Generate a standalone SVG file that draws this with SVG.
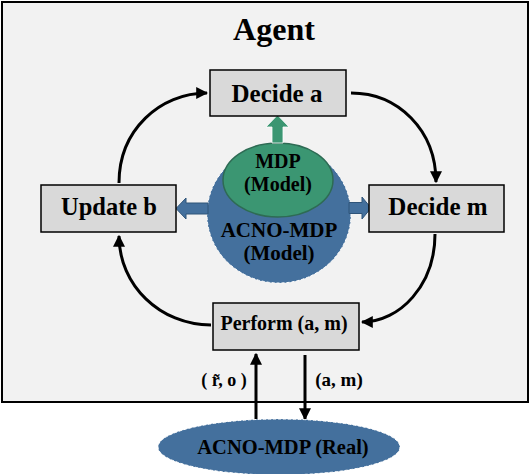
<svg xmlns="http://www.w3.org/2000/svg" width="532" height="474" viewBox="0 0 532 474">
<style>
text{font-family:"Liberation Serif","Times New Roman",serif;font-weight:bold;fill:#000;text-anchor:middle}
.box{fill:#d9d9d9;stroke:#000;stroke-width:1.5}
.conn{fill:none;stroke:#000;stroke-width:3;marker-end:url(#ah)}
.blue{fill:#44709d;stroke:#ffffff;stroke-width:1;stroke-dasharray:3 2}
.barrow{fill:#44709d;stroke:#2f5479;stroke-width:1}
</style>
<defs>
<marker id="ah" viewBox="0 0 10 10" refX="9" refY="5" markerWidth="4" markerHeight="4" orient="auto" markerUnits="strokeWidth">
<path d="M0,0 L10,5 L0,10 z" fill="#000"/>
</marker>
</defs>
<rect x="2" y="2" width="526" height="400" fill="#f2f2f2" stroke="#000" stroke-width="2"/>
<text x="274" y="40" font-size="32">Agent</text>

<g id="connectors">
<path class="conn" d="M119,183 C119,130 160,93 207,93"/>
<path class="conn" d="M351,93 C398,93 436,130 436,182"/>
<path class="conn" d="M435,234 C435,285 400,322 362,322"/>
<path class="conn" d="M211,325 C160,325 119,285 119,236"/>
<path class="conn" d="M256,419 L256,354"/>
<path class="conn" d="M305,355 L305,419"/>
</g>

<g id="acno-model">
<ellipse class="blue" cx="279" cy="214" rx="72" ry="69"/>
<path class="barrow" d="M208,203 L186,203 L186,198 L176,208.5 L186,219 L186,214 L208,214 z"/>
<path class="barrow" d="M349,202.5 L362,202.5 L362,197 L371,208 L362,219 L362,213.5 L349,213.5 z"/>
<text x="279" y="237" font-size="21">ACNO-MDP</text>
<text x="279" y="260" font-size="21">(Model)</text>
</g>

<g id="mdp-model">
<ellipse cx="278" cy="180" rx="55" ry="37" fill="#3b9672" stroke="#2e6b54" stroke-width="1.5"/>
<path d="M272,143 L272,127 L266,127 L277.5,115 L289,127 L283,127 L283,143 z" fill="#3b9672" stroke="#ffffff" stroke-width="0.8"/>
<text x="278" y="168" font-size="20">MDP</text>
<text x="278" y="191" font-size="20">(Model)</text>
</g>

<g id="decide-a">
<rect class="box" x="210" y="70" width="136" height="46"/>
<text x="277" y="102" font-size="25">Decide a</text>
</g>

<g id="update-b">
<rect class="box" x="41" y="185" width="135" height="47"/>
<text x="109" y="215" font-size="24.5">Update b</text>
</g>

<g id="decide-m">
<rect class="box" x="369" y="185" width="135" height="47"/>
<text x="438" y="215" font-size="25">Decide m</text>
</g>

<g id="perform">
<rect class="box" x="213" y="303" width="146" height="47"/>
<text x="284" y="330" font-size="20">Perform (a, m)</text>
</g>

<g id="labels">
<text x="224" y="386" font-size="18">( r̃, o )</text>
<text x="339" y="386" font-size="19">(a, m)</text>
</g>

<g id="acno-real">
<ellipse class="blue" cx="279" cy="447" rx="121" ry="28"/>
<text x="283" y="454" font-size="20.5">ACNO-MDP (Real)</text>
</g>
</svg>
